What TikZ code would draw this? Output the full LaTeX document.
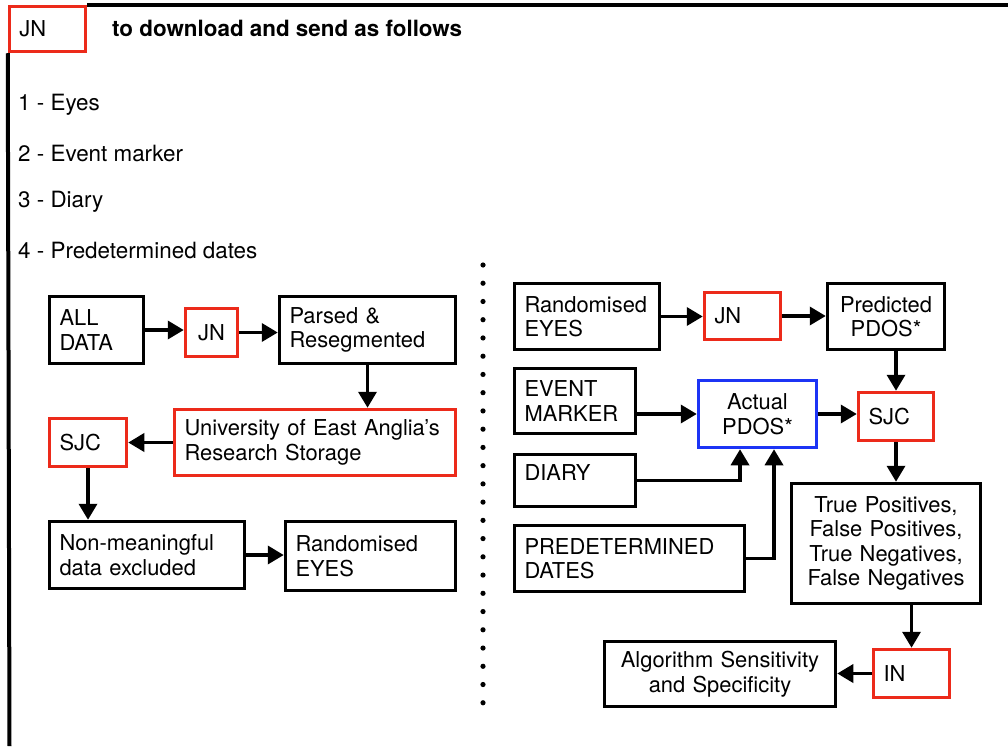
\documentclass[tikz,border=0pt]{standalone}
\usepackage{fontspec}
\setmainfont{TeX Gyre Heros}
\usetikzlibrary{arrows.meta}
\definecolor{myred}{RGB}{236,42,26}
\definecolor{myblue}{RGB}{28,52,245}
\begin{document}
\begin{tikzpicture}[x=1pt,y=-1pt,
  every node/.style={font=\fontsize{21.9}{24.5}\selectfont},
  bk/.style={draw=black, line width=3.5pt, inner xsep=10pt, inner ysep=0pt},
  rd/.style={draw=myred, line width=3.5pt, inner xsep=10pt, inner ysep=0pt},
  bl/.style={draw=myblue, line width=3.5pt, inner xsep=10pt, inner ysep=0pt},
  arr/.style={line width=3.5pt, -{Triangle[length=16pt,width=18pt]}},
  frame/.style={line width=4pt},
  plain/.style={anchor=west, inner sep=0pt, font=\fontsize{22.4}{26}\selectfont}]
\useasboundingbox (0,0) rectangle (1008,746);

% header
\node[rd, minimum width=76pt, minimum height=45pt, text width=56pt, align=left] (jn0) at (47.5,29) {JN};
\node[plain, font=\fontsize{22.4}{26}\selectfont\bfseries] (title) at (112,28) {to download and send as follows};
\coordinate (ft) at (1008,6);
\coordinate (fl) at (9.5,746);
\draw[frame] (jn0.north east) -- (jn0.north east -| ft);
\draw[frame] (jn0.south west) -- (fl);

\node[plain] (l1) at (18,104.5) {1 - Eyes};
\node[plain] (l2) at (18,153.5) {2 - Event marker};
\node[plain] (l3) at (18,201.5) {3 - Diary};
\node[plain] (l4) at (18,250.5) {4 - Predetermined dates};

% left part
\node[bk, minimum width=94pt, minimum height=67pt, text width=74pt, align=left] (alldata) at (96.5,330) {ALL\\DATA};
\node[rd, minimum width=52pt, minimum height=48pt, text width=32pt, align=center] (jn1) at (211.5,332.5) {JN};
\node[bk, minimum width=176pt, minimum height=67pt, text width=156pt, align=left] (parsed) at (367.5,330) {Parsed \&\\Resegmented};
\node[rd, minimum width=281pt, minimum height=66pt, text width=261pt, align=left] (uea) at (315,442.5) {University of East Anglia’s\\Research Storage};
\node[rd, minimum width=77pt, minimum height=48pt, text width=57pt, align=left] (sjc1) at (88,442.5) {SJC};
\node[bk, minimum width=195pt, minimum height=67pt, text width=175pt, align=left] (nonmean) at (147,555) {Non-meaningful\\data excluded};
\node[bk, minimum width=170pt, minimum height=69pt, text width=150pt, align=left] (rand1) at (370.5,556) {Randomised\\EYES};

\draw[arr] (alldata.east) -- (alldata.east -| jn1.west);
\draw[arr] (jn1.east) -- (jn1.east -| parsed.west);
\draw[arr] (parsed.south) -- (parsed.south |- uea.north);
\draw[arr] (uea.west) -- (uea.west -| sjc1.east);
\draw[arr] (sjc1.south) -- (sjc1.south |- nonmean.north);
\draw[arr] (nonmean.east) -- (nonmean.east -| rand1.west);

% separator
\foreach \i in {0,...,24} \fill (483,{265+18.24*\i}) circle (2.6pt);

% right part
\node[bk, minimum width=145pt, minimum height=66pt, text width=125pt, align=left] (rand2) at (587,316.5) {Randomised\\EYES};
\node[rd, minimum width=76pt, minimum height=47pt, text width=56pt, align=left] (jn2) at (742.5,316) {JN};
\node[bk, minimum width=117pt, minimum height=66pt, text width=97pt, align=center] (pred) at (886,316.5) {Predicted\\PDOS*};
\node[bk, minimum width=121pt, minimum height=65pt, text width=101pt, align=left] (event) at (575,401) {EVENT\\MARKER};
\node[bl, minimum width=118pt, minimum height=67pt, text width=98pt, align=center] (actual) at (757.5,414) {Actual\\PDOS*};
\node[rd, minimum width=75pt, minimum height=48pt, text width=55pt, align=left] (sjc2) at (896,416.5) {SJC};
\node[bk, minimum width=121pt, minimum height=52pt, text width=101pt, text depth=15pt, align=left] (diary) at (575,480.5) {DIARY};
\node[bk, minimum width=230pt, minimum height=66pt, text width=210pt, align=left] (predates) at (629.5,558.5) {PREDETERMINED\\DATES};
\node[bk, minimum width=189pt, minimum height=120pt, text width=180pt, inner xsep=4.5pt, align=center] (truepos) at (886,543.5) {True Positives,\\False Positives,\\True Negatives,\\False Negatives};
\node[rd, minimum width=76pt, minimum height=48pt, text width=56pt, align=left] (inn) at (911.5,673.5) {IN};
\node[bk, minimum width=231pt, minimum height=65pt, text width=211pt, align=center] (algo) at (720,674) {Algorithm Sensitivity\\and Specificity};

\draw[arr] (rand2.east) -- (rand2.east -| jn2.west);
\draw[arr] (jn2.east) -- (jn2.east -| pred.west);
\draw[arr] (sjc2.north |- pred.south) -- (sjc2.north);
\draw[arr] (event.east |- actual.west) -- (actual.west);
\draw[arr] (actual.east) -- (actual.east -| sjc2.west);
\draw[arr] (diary.east) -| ([xshift=-17.5pt]actual.south);
\draw[arr] (predates.east) -| ([xshift=16.5pt]actual.south);
\draw[arr] (sjc2.south) -- (sjc2.south |- truepos.north);
\draw[arr] (inn.north |- truepos.south) -- (inn.north);
\draw[arr] (inn.west) -- (inn.west -| algo.east);
\end{tikzpicture}
\end{document}
